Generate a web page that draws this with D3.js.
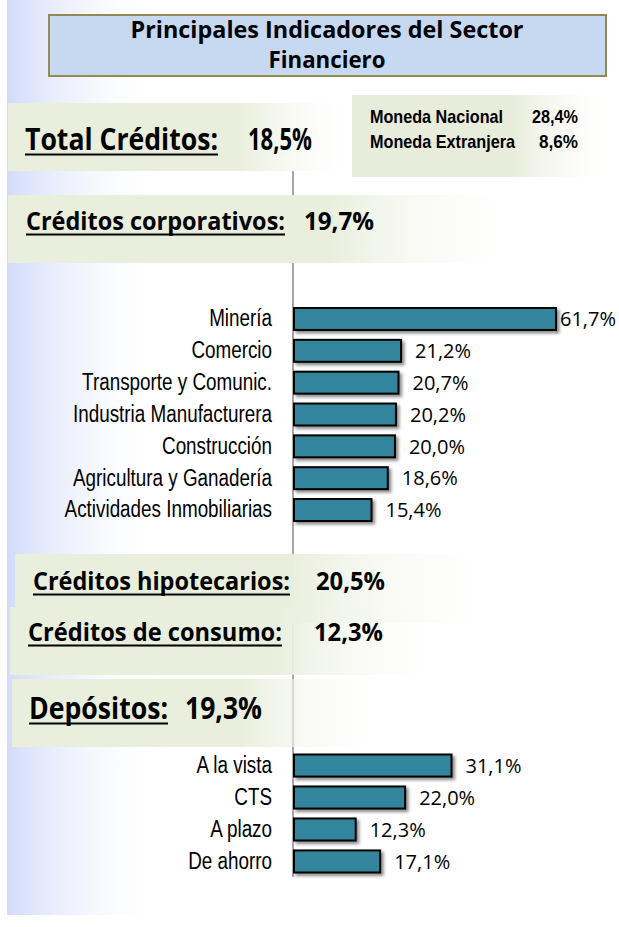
<!DOCTYPE html>
<html>
<head>
<meta charset="utf-8">
<script src="https://cdn.jsdelivr.net/npm/d3@7"></script>
<style>
  html, body { margin: 0; padding: 0; background: #fff; }
  svg { display: block; }
</style>
</head>
<body>
<div id="chart"></div>
<script>
// ---------------- DATA ----------------
const titleLines = ["Principales Indicadores del Sector", "Financiero"];
const headingLabels = ["Total Créditos:", "Créditos corporativos:", "Créditos hipotecarios:", "Créditos de consumo:", "Depósitos:"];
const headingValues = [18.5, 19.7, 20.5, 12.3, 19.3];
const monedaLabels = ["Moneda Nacional", "Moneda Extranjera"];
const monedaValues = [28.4, 8.6];
const sectorCategories = ["Minería", "Comercio", "Transporte y Comunic.", "Industria Manufacturera", "Construcción", "Agricultura y Ganadería", "Actividades Inmobiliarias"];
const sectorValues = [61.7, 21.2, 20.7, 20.2, 20.0, 18.6, 15.4];
const depositCategories = ["A la vista", "CTS", "A plazo", "De ahorro"];
const depositValues = [31.1, 22.0, 12.3, 17.1];

// ---------------- SETUP ----------------
const W = 619, H = 927;
const fmt = v => d3.format(".1f")(v).replace(".", ",") + "%";
const NARROW = 0.82;

const svg = d3.select("#chart").append("svg").attr("width", W).attr("height", H);
const defs = svg.append("defs");

function hGradient(id, x0, x1, color, fadeStart) {
  const g = defs.append("linearGradient").attr("id", id)
    .attr("gradientUnits", "userSpaceOnUse").attr("x1", x0).attr("x2", x1).attr("y1", 0).attr("y2", 0);
  g.append("stop").attr("offset", 0).attr("stop-color", color);
  g.append("stop").attr("offset", fadeStart).attr("stop-color", color);
  g.append("stop").attr("offset", 1).attr("stop-color", "#ffffff").attr("stop-opacity", 0);
}

const shadow = defs.append("filter").attr("id", "barShadow").attr("x", "-10%").attr("y", "-30%").attr("width", "130%").attr("height", "180%");
shadow.append("feDropShadow").attr("dx", 2.5).attr("dy", 2.5).attr("stdDeviation", 1.4)
  .attr("flood-color", "#000").attr("flood-opacity", 0.45);

// Left blue strip
hGradient("stripGrad", 7, 165, "#d2dbfa", 0);
svg.append("rect").attr("x", 7).attr("y", 0).attr("width", 160).attr("height", 915).attr("fill", "url(#stripGrad)");

// Axis line (behind bands)
const axisX = 293;
svg.append("line").attr("x1", axisX).attr("x2", axisX).attr("y1", 171).attr("y2", 877)
  .attr("stroke", "#8a8a8a").attr("stroke-width", 1.5);

// ---------------- TITLE ----------------
svg.append("rect").attr("x", 49).attr("y", 15).attr("width", 557).attr("height", 61)
  .attr("fill", "#c6d9f1").attr("stroke", "#948a54").attr("stroke-width", 2);
const titleLayout = [{ y: 38, w: 393 }, { y: 68, w: 117 }];
titleLines.forEach((t, i) => {
  svg.append("text").attr("x", 327).attr("y", titleLayout[i].y).attr("text-anchor", "middle")
    .attr("font-family", "Open Sans").attr("font-weight", 700).attr("font-size", 23)
    .attr("textLength", titleLayout[i].w).attr("lengthAdjust", "spacingAndGlyphs")
    .attr("fill", "#000").text(t);
});

// ---------------- HEADING BANDS ----------------
const headingLayout = [
  { bx: 8,  by: 103, bh: 68, bend: 365, fade: 0.65, x: 25, base: 150, w: 193, vx: 248, vw: 64, size: 30 },
  { bx: 8,  by: 195, bh: 68, bend: 530, fade: 0.62, x: 26, base: 230, w: 259, vx: 304, vw: 70, size: 25.5 },
  { bx: 15, by: 554, bh: 69, bend: 515, fade: 0.55, x: 33, base: 590, w: 257, vx: 316, vw: 69, size: 25.5 },
  { bx: 10, by: 607, bh: 68, bend: 455, fade: 0.6,  x: 28, base: 641, w: 254, vx: 314, vw: 69, size: 25.5 },
  { bx: 12, by: 679, bh: 68, bend: 395, fade: 0.6,  x: 29, base: 719, w: 139, vx: 185, vw: 77, size: 30 }
];

headingLabels.forEach((lab, i) => {
  const L = headingLayout[i];
  hGradient("band" + i, L.bx, L.bend, "#eaefdd", L.fade);
  svg.append("rect").attr("x", L.bx).attr("y", L.by).attr("width", L.bend - L.bx).attr("height", L.bh)
    .attr("fill", "url(#band" + i + ")");
  svg.append("text").attr("x", L.x).attr("y", L.base)
    .attr("font-family", "Open Sans").attr("font-weight", 700).attr("font-size", L.size)
    .attr("textLength", L.w).attr("lengthAdjust", "spacingAndGlyphs").attr("fill", "#000").text(lab);
  svg.append("line").attr("x1", L.x).attr("x2", L.x + L.w).attr("y1", L.base + 4.5).attr("y2", L.base + 4.5)
    .attr("stroke", "#000").attr("stroke-width", 1.8);
  svg.append("text").attr("x", L.vx).attr("y", L.base)
    .attr("font-family", "Open Sans").attr("font-weight", 700).attr("font-size", L.size)
    .attr("textLength", L.vw).attr("lengthAdjust", "spacingAndGlyphs").attr("fill", "#000").text(fmt(headingValues[i]));
});

// ---------------- MONEDA BOX ----------------
hGradient("monedaGrad", 352, 619, "#e8ecdb", 0.6);
svg.append("rect").attr("x", 352).attr("y", 95).attr("width", 267).attr("height", 82).attr("fill", "url(#monedaGrad)");
const monedaLayout = [{ base: 123, w: 133, vx: 532, vw: 46 }, { base: 148, w: 145, vx: 539, vw: 39 }];
monedaLabels.forEach((lab, i) => {
  const M = monedaLayout[i];
  svg.append("text").attr("x", 370).attr("y", M.base)
    .attr("font-family", "Liberation Sans").attr("font-weight", 700).attr("font-size", 18.5)
    .attr("textLength", M.w).attr("lengthAdjust", "spacingAndGlyphs").attr("fill", "#000").text(lab);
  svg.append("text").attr("x", M.vx).attr("y", M.base)
    .attr("font-family", "Liberation Sans").attr("font-weight", 700).attr("font-size", 18.5)
    .attr("textLength", M.vw).attr("lengthAdjust", "spacingAndGlyphs").attr("fill", "#000").text(fmt(monedaValues[i]));
});

// ---------------- BAR CHARTS ----------------
// shared x scale; longest bar (Minería) is cut at the scale's end
const x = d3.scaleLinear().domain([0, 51.6]).range([axisX, axisX + 263]).clamp(true);

function barChart(cats, vals, y0, y1) {
  const y = d3.scaleBand().domain(cats).range([y0, y1]).paddingInner(0.31).paddingOuter(0);
  const g = svg.append("g");
  g.selectAll("rect.bar").data(cats).join("rect").attr("class", "bar")
    .attr("x", axisX + 1).attr("y", d => y(d))
    .attr("width", (d, i) => x(vals[i]) - axisX - 1).attr("height", y.bandwidth())
    .attr("fill", "#31859c").attr("stroke", "#000").attr("stroke-width", 2)
    .attr("filter", "url(#barShadow)");
  g.selectAll("text.val").data(cats).join("text").attr("class", "val")
    .attr("x", (d, i) => x(vals[i]) + (vals[i] > x.domain()[1] ? 4 : 14))
    .attr("y", d => y(d) + y.bandwidth() / 2).attr("dy", "0.36em")
    .attr("font-family", "Open Sans").attr("font-size", 20).attr("fill", "#000")
    .text((d, i) => fmt(vals[i]));
  const ax = svg.append("g").attr("transform", `translate(${axisX},0)`)
    .call(d3.axisLeft(y).tickSize(0).tickPadding(21));
  ax.select(".domain").remove();
  ax.selectAll("text")
    .attr("x", -21 / NARROW)
    .attr("transform", `scale(${NARROW},1)`)
    .attr("font-family", "Liberation Sans").attr("font-size", 23).attr("fill", "#000");
}

barChart(sectorCategories, sectorValues, 308, 521);
barChart(depositCategories, depositValues, 754.5, 872.5);
</script>
</body>
</html>
